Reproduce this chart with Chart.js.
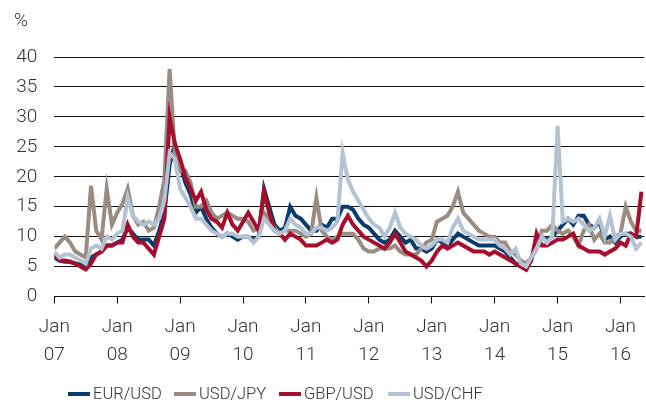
<!DOCTYPE html>
<html>
<head>
<meta charset="utf-8">
<style>
  html, body { margin: 0; padding: 0; background: #fff; }
  #wrap { position: relative; width: 646px; height: 405px; }
  #legenda { position: absolute; left: 0; top: 384px; height: 20px; width: 646px; }
  .item { position: absolute; top: 0; height: 20px; font: 300 16.5px "Roboto", "Liberation Sans", sans-serif; color: #333; line-height: 20px; white-space: nowrap; }
  .item i { display: inline-block; width: 22px; height: 4px; vertical-align: middle; margin-right: 3px; position: relative; top: -1px; }
</style>
<script src="https://cdn.jsdelivr.net/npm/chart.js"></script>
</head>
<body>
<div id="wrap"><canvas id="grafico"></canvas><div id="legenda"></div></div>
<script>
// monthly points, Jan 2007 .. May 2016 (x = years since Jan 2007)
var yearLabels = ['07', '08', '09', '10', '11', '12', '13', '14', '15', '16'];
var seriesNames = ['EUR/USD', 'USD/JPY', 'GBP/USD', 'USD/CHF'];

var eurUsd = [
  6.5, 6, 5.8, 5.8, 5.5, 5.3, 5, 6.5, 7, 7.5, 8.5, 8.5,
  9, 9.5, 11.5, 10.5, 9.5, 9.5, 9.5, 8.5, 11, 14, 22, 25.5,
  22, 19, 17, 14, 15, 13, 11.5, 10.5, 10, 10.5, 10, 9.5,
  10, 10, 9.5, 10, 18, 15, 12, 11, 11.5, 15, 13.5, 13,
  12, 11, 11, 12, 11.5, 13, 13, 15, 15, 14.5, 13, 12,
  11.5, 10.5, 9.5, 9, 9.5, 11, 10, 9, 9.5, 8, 8, 7.5,
  8, 9.5, 9, 8.5, 9.5, 10.5, 10, 9.5, 9, 8.5, 8.5, 8.5,
  8.5, 8, 7.5, 6.5, 5.5, 5, 4.5, 6.5, 8, 10, 9.5, 10,
  11, 12, 13, 12, 13.5, 13.5, 12, 11.5, 12.5, 9.5, 10, 9,
  10, 10.5, 10.5, 10, 10
];
var usdJpy = [
  8, 9, 10, 9, 7.5, 7, 6.5, 18.5, 11, 9.5, 18, 12,
  14, 15.5, 18, 13.5, 12, 12.5, 11, 11.5, 15, 19.5, 38, 24,
  21, 21, 19, 15, 15, 16, 14, 13, 13.5, 14, 13.5, 13,
  13, 12.5, 11, 11.5, 14, 13, 11.5, 10.5, 11, 11, 11, 10.5,
  10, 10.5, 16.5, 11, 10, 9.5, 10, 10.5, 10.5, 10.5, 9.5, 8,
  7.5, 7.5, 8, 8, 8, 8.5, 7.5, 7, 7, 7, 8, 9,
  9.5, 12.5, 13, 13.5, 15, 17.5, 14, 13, 12, 11, 10.5, 10,
  10, 9, 9, 7.5, 7, 6, 5.5, 6.5, 8, 11, 11, 12,
  11, 10.5, 11, 10, 8.5, 11, 12, 9.5, 10.5, 9, 9, 10,
  10.5, 15, 12.5, 11, 11
];
var gbpUsd = [
  7, 6, 6, 5.8, 5.5, 5, 4.5, 5.5, 7, 7.5, 8.5, 8.5,
  9, 9, 12, 10, 9, 9, 8, 7, 10, 13, 30, 25.5,
  23, 20, 18, 16, 17.5, 14.5, 13, 12.5, 11.5, 14, 12, 11,
  12.5, 14, 12.5, 11, 17.5, 14, 11, 10.5, 9.5, 10.5, 10, 9.5,
  8.5, 8.5, 8.5, 9, 9.5, 9, 9.5, 12, 13.5, 12, 11, 10,
  9.5, 9, 8.5, 8, 9, 10.5, 9, 7.5, 7, 6.5, 6, 5,
  6, 7.5, 8.5, 8, 8.5, 9, 8.5, 8, 7.5, 7.5, 7.5, 7,
  7.5, 7, 6.5, 6, 5.5, 5, 4.5, 6, 10.5, 8.5, 8.5, 9,
  9.5, 9.5, 10, 10.5, 8.5, 8, 7.5, 7.5, 7.5, 7, 7.5, 8,
  9, 8.5, 10.5, 10, 17.5
];
var usdChf = [
  7.5, 6.5, 7, 7, 6.5, 6, 5.5, 8, 8.5, 8, 10, 9.5,
  10.5, 11, 16.5, 13.5, 12.5, 12, 12.5, 12, 13, 16, 24, 23,
  18, 16.5, 15, 13, 13, 12, 11, 10.5, 10, 10.5, 10.5, 10,
  10, 10, 9, 10, 13, 12, 11, 10.5, 11, 13, 12, 11.5,
  10.5, 10.5, 11.5, 11.5, 11, 11.5, 12.5, 24, 19.5, 17.5, 16, 14.5,
  13, 12, 11.5, 10, 11.5, 14, 11.5, 10.5, 10, 9.5, 8.5, 8,
  8.5, 9.5, 9.5, 9, 11.5, 13, 11, 10.5, 10, 9.5, 9.5, 9.5,
  9.5, 8.5, 8, 7, 8, 5.5, 5, 6.5, 8, 10, 9, 10,
  28.5, 12.5, 13, 12.5, 13, 12, 11, 11.5, 13, 10, 13.5, 9.5,
  10.5, 10.5, 10, 8, 9
];

var cores = ['#0b3c6b', '#9a8c82', '#a50f2d', '#b3c3d3'];
var ordem = [3, 2, 1, 0]; // light blue drawn on top
var legendaX = [68, 174, 279, 388];

function pontos(valores) {
  return valores.map(function(v, i) { return { x: i / 12, y: v }; });
}

var fonte = '"Roboto", "Liberation Sans", sans-serif';
var corTexto = '#333';

var seriesData = [eurUsd, usdJpy, gbpUsd, usdChf];
var datasets = seriesNames.map(function(nome, i) {
  return {
    label: nome,
    data: pontos(seriesData[i]),
    borderColor: cores[i],
    backgroundColor: cores[i],
    borderWidth: 4,
    pointRadius: 0,
    tension: 0,
    order: ordem[i]
  };
});

// legend below the chart
var legenda = document.getElementById('legenda');
seriesNames.forEach(function(nome, i) {
  var el = document.createElement('span');
  el.className = 'item';
  el.style.left = legendaX[i] + 'px';
  el.innerHTML = '<i style="background:' + cores[i] + '"></i>' + nome;
  legenda.appendChild(el);
});

var percentLabel = {
  id: 'percentLabel',
  afterDraw: function(chart) {
    var ctx = chart.ctx;
    ctx.save();
    ctx.font = '300 19px ' + fonte;
    ctx.fillStyle = corTexto;
    ctx.textBaseline = 'middle';
    ctx.textAlign = 'left';
    ctx.fillText('%', 14, 21);
    ctx.restore();
  }
};

new Chart(document.getElementById('grafico'), {
  type: 'line',
  data: { datasets: datasets },
  plugins: [percentLabel],
  options: {
    responsive: true,
    maintainAspectRatio: false,
    animation: false,
    layout: { padding: { top: 57, left: 0, right: 0, bottom: 32.5 } },
    plugins: {
      tooltip: { enabled: false },
      legend: { display: false }
    },
    scales: {
      x: {
        type: 'linear',
        min: 0,
        max: 9.38,
        afterFit: function(scale) { scale.height = 76; },
        border: { display: true, color: '#111', width: 1 },
        grid: { drawOnChartArea: false, drawTicks: true, tickLength: 7, color: '#111' },
        ticks: {
          stepSize: 1,
          includeBounds: false,
          autoSkip: false,
          maxRotation: 0,
          padding: 10,
          color: corTexto,
          font: { family: fonte, size: 19, weight: 300, lineHeight: 1.45 },
          callback: function(v) {
            return Number.isInteger(v) ? ['Jan', yearLabels[v]] : '';
          }
        }
      },
      y: {
        min: 0,
        max: 40,
        afterFit: function(scale) { scale.width = 54.3; },
        border: { display: false },
        grid: { color: '#111', lineWidth: 1, drawTicks: false },
        ticks: {
          stepSize: 5,
          padding: 17,
          color: corTexto,
          font: { family: fonte, size: 19, weight: 300 }
        }
      }
    }
  }
});
</script>
</body>
</html>
